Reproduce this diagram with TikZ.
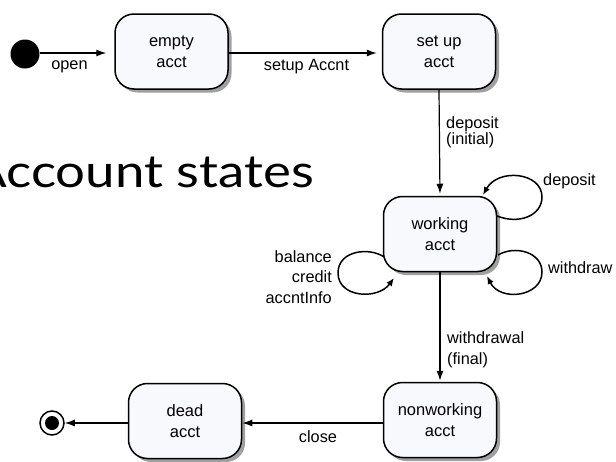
\documentclass[tikz,border=0pt]{standalone}
\usepackage{fontspec}
\setmainfont{Liberation Sans}
\newfontfamily\titlefont[FakeStretch=1.16]{Lato}
\usetikzlibrary{arrows.meta,shadows}
\definecolor{boxfill}{HTML}{F8F9FD}
\definecolor{shadowgray}{HTML}{A0A0A0}
\begin{document}
\begin{tikzpicture}[x=1pt,y=-1pt,
  state/.style={draw=black, line width=1.5pt, rounded corners=19pt, fill=boxfill,
    minimum width=113pt, minimum height=75pt, align=center, inner sep=0pt,
    font=\fontsize{16.5}{20.5}\selectfont,
    drop shadow={shadow xshift=3.5pt, shadow yshift=-3.5pt, fill=shadowgray, opacity=1}},
  lbl/.style={font=\fontsize{16.3}{16}\selectfont, inner sep=0pt, align=left},
  arr/.style={-{Latex[length=10pt,width=7pt]}, line width=1.2pt},
  loop/.style={-{Latex[length=8pt,width=6.5pt]}, line width=1.5pt}]
\useasboundingbox (0,0) rectangle (616,461);

% title
\node[anchor=base east, inner sep=0pt, font=\titlefont\fontsize{45.5}{50}\selectfont] (title) at (314,187) {Account states};

% states
\node[state] (empty) at (171.5,51.5) {empty\\acct};
\node[state] (setup) at (439,51.5) {set up\\acct};
\node[state] (working) at (440,234) {working\\acct};
\node[state] (nonworking) at (440,420) {nonworking\\acct};
\node[state] (dead) at (185,421) {dead\\acct};

% pseudo states
\node[circle, fill=black, minimum size=29pt, inner sep=0pt] (start) at (25,54) {};
\node[circle, draw=black, line width=1.5pt, fill=white, minimum size=24pt, inner sep=0pt] (end) at (52,423) {};
\node[circle, fill=black, minimum size=14pt, inner sep=0pt] (endin) at (end.center) {};

% transitions
\draw[arr, shorten >=8pt] (start.east |- 0,53) coordinate (s1) -- (empty.west |- s1);
\node[lbl, anchor=base] (lopen) at (69.5,69.5) {open};
\draw[arr, shorten >=5pt] (empty.east |- 0,53) coordinate (e1) -- (setup.west |- e1);
\node[lbl, anchor=base] (lsetup) at (306.5,70) {setup Accnt};
\draw[arr, shorten >=2pt] (setup.south) -- (working.north);
\node[lbl, anchor=north west] (ldep) at (446,116.2) {deposit\\(initial)};
\draw[arr, shorten >=1pt] (working.south) -- (nonworking.north);
\node[lbl, anchor=north west, font=\fontsize{16.3}{21}\selectfont] (lwd) at (447,331.2) {withdrawal\\(final)};
\draw[arr] (nonworking.west |- 0,423) coordinate (n1) -- (dead.east |- n1);
\node[lbl, anchor=base] (lclose) at (318,442) {close};
\draw[arr] (dead.west |- 0,423) coordinate (d1) -- (end.east);

% self loops on working
\coordinate (dp1) at (497,216);
\coordinate (dp2) at (483,195);
\draw[loop] (dp1) .. controls (520,225) and (542,215) .. (542,197)
  .. controls (542,172) and (498,168) .. (dp2);
\node[lbl, anchor=base west] (ldeposit) at (543,185) {deposit};

\coordinate (wd1) at (498,255);
\coordinate (wd2) at (487,276);
\draw[loop] (wd1) .. controls (515,245) and (542,252) .. (542,272)
  .. controls (542,297) and (500,302) .. (wd2);
\node[lbl, anchor=base west] (lwithdraw) at (548,273) {withdraw};

\coordinate (bl1) at (384,257);
\coordinate (bl2) at (394,278);
\draw[loop] (bl1) .. controls (370,247) and (338,250) .. (338,273)
  .. controls (338,298) and (378,300) .. (bl2);
\node[lbl, anchor=north east, align=right, font=\fontsize{16.3}{20.5}\selectfont] (lbal) at (332,250.2) {balance\\credit\\accntInfo};
\end{tikzpicture}
\end{document}
